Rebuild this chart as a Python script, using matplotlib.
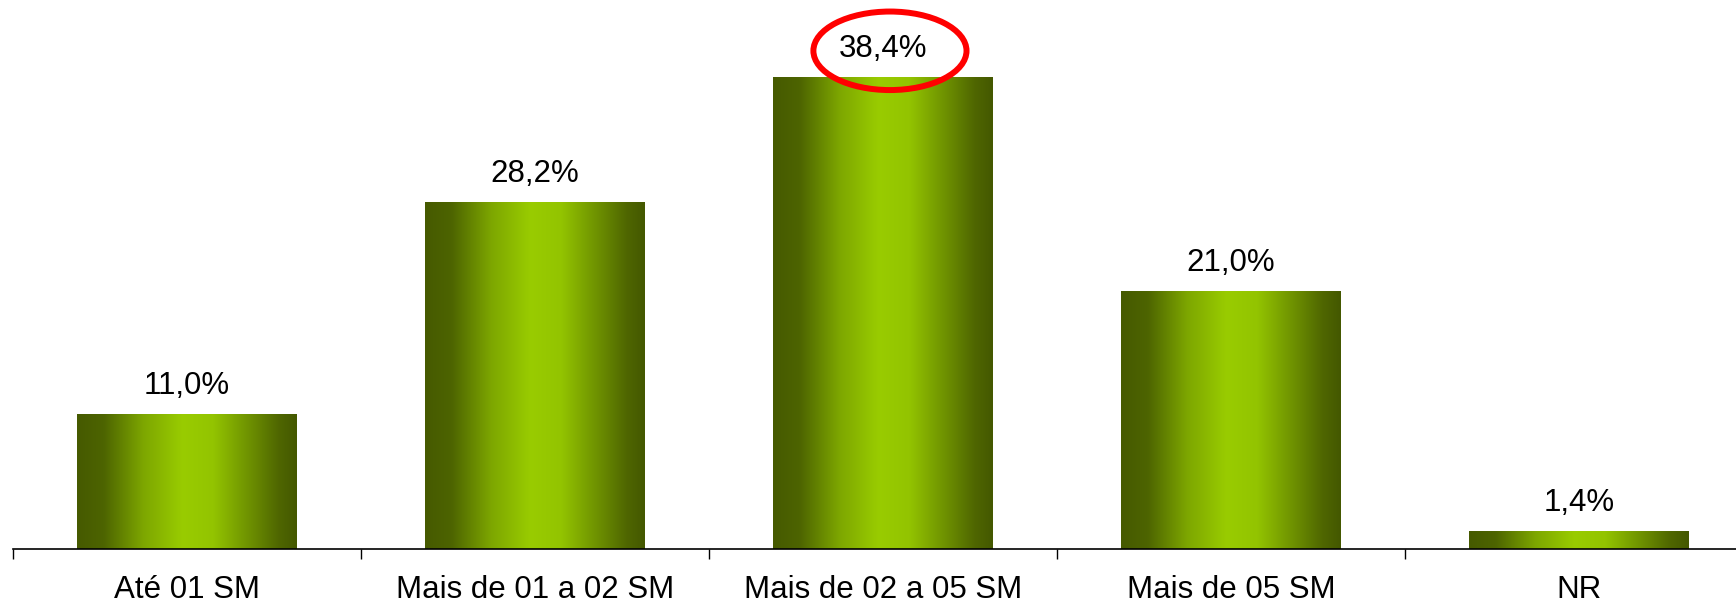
import numpy as np
import matplotlib
matplotlib.use('Agg')
import matplotlib.pyplot as plt
from matplotlib.patches import Ellipse
from matplotlib.colors import LinearSegmentedColormap

plt.rcParams['font.family'] = ['Liberation Sans', 'DejaVu Sans']

categories = ['Até 01 SM', 'Mais de 01 a 02 SM', 'Mais de 02 a 05 SM', 'Mais de 05 SM', 'NR']
values = [11.0, 28.2, 38.4, 21.0, 1.4]
value_labels = ['11,0%', '28,2%', '38,4%', '21,0%', '1,4%']
highlight = 2  # circled bar

fig = plt.figure(figsize=(17.36, 6.02), dpi=100)
ax = fig.add_axes([13 / 1736, 53 / 602, 1740 / 1736, 549 / 602])

x = np.arange(len(categories))
bar_width = 0.63
bars = ax.bar(x, values, width=bar_width, color='none', edgecolor='none')

# horizontal gradient: dark olive at the edges, bright green in the middle
grad_cmap = LinearSegmentedColormap.from_list(
    'olive', [(0.0, '#465a00'), (0.12, '#4d6400'), (0.30, '#7da600'),
              (0.48, '#99cc00'), (0.62, '#93c400'), (0.80, '#6a8c00'),
              (0.92, '#4f6600'), (1.0, '#445800')])
grad = np.linspace(0, 1, 256).reshape(1, -1)
for b in bars:
    x0, y0 = b.get_x(), b.get_y()
    ax.imshow(grad, cmap=grad_cmap, aspect='auto', interpolation='bicubic',
              extent=[x0, x0 + b.get_width(), y0, y0 + b.get_height()], zorder=2)

for xi, v, lab in zip(x, values, value_labels):
    ax.text(xi, v + 1.1, lab, ha='center', va='bottom', fontsize=22.5, color='#000000')

# red ellipse round the highest value
ax.add_patch(Ellipse((highlight + 0.02, values[highlight] + 2.2), 0.44, 6.4,
                     fill=False, edgecolor='#ff0000', linewidth=4.3, clip_on=False, zorder=5))

ax.set_xlim(-0.5, len(categories) - 0.5)
ax.set_ylim(0, 44.74)
ax.set_xticks(x)
ax.set_xticklabels(categories, fontsize=22.5)
ax.set_xticks(np.arange(len(categories) + 1) - 0.5, minor=True)
ax.tick_params(axis='x', which='major', length=0, pad=19)
ax.tick_params(axis='x', which='minor', length=7, width=1, direction='out', color='#000000')
ax.set_yticks([])
for s in ['left', 'right', 'top']:
    ax.spines[s].set_visible(False)
ax.spines['bottom'].set_linewidth(1.2)

fig.savefig('out.png', dpi=100)
